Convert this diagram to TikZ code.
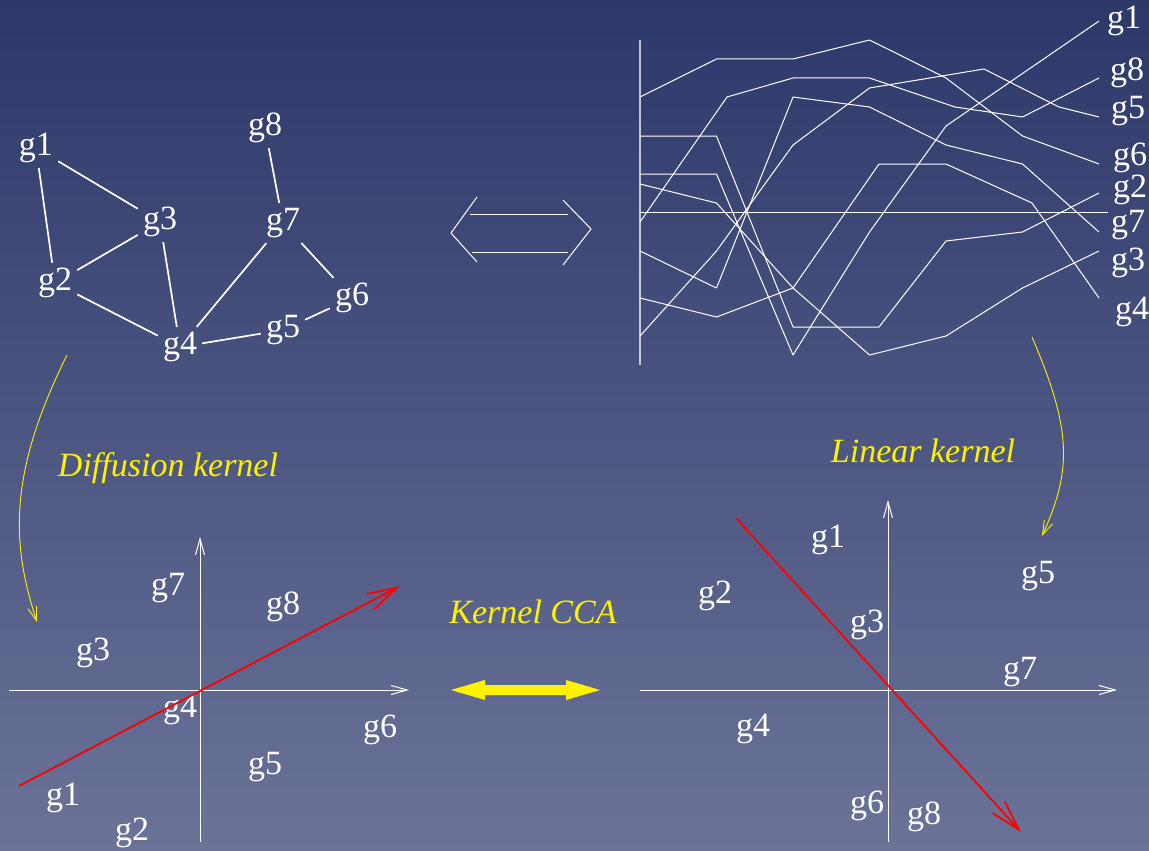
\documentclass[tikz,border=0pt]{standalone}
\usepackage{fontspec}
\setmainfont{Liberation Serif}
\usetikzlibrary{arrows.meta}
\definecolor{bgtop}{RGB}{44,56,106}
\definecolor{bgbot}{RGB}{107,115,152}

\begin{document}
\begin{tikzpicture}[x=1pt,y=-1pt,font=\fontsize{34}{40}\selectfont,
  lab/.style={text=white,inner sep=0pt},
  gene/.style={text=white,inner sep=5pt},
  edge/.style={white,line width=1.7pt},
  prof/.style={white,line width=1pt,line join=round},
  axis/.style={white,line width=1pt,-{Straight Barb[length=16pt,width=9pt]}},
  kern/.style={yellow,line width=0.9pt,-{Straight Barb[length=14pt,width=9pt]}},
  dir/.style={red,line width=1.8pt,-{Straight Barb[length=30pt,width=17pt]}},
  note/.style={text=yellow,font=\fontsize{34}{40}\selectfont\itshape}]
\useasboundingbox (0,0) rectangle (1149,851);
\shade[top color=bgtop,bottom color=bgbot] (0,0) rectangle (1149,851);

% gene network
\foreach \n/\x/\y in {1/36/148,2/55/283,3/160/222,4/180/347,5/283/330,6/352/298,7/283/223,8/265/128}
  \node[gene] (n\n) at (\x,\y) {g\n};
\foreach \a/\b in {1/2,1/3,2/3,2/4,3/4,4/5,4/7,5/6,6/7,7/8}
  \draw[edge] (n\a) -- (n\b);

% expression profiles
\draw[white,opacity=0.7,line width=1.6pt] (640,40) -- (640,365);
\draw[white,line width=1pt] (640,212) -- (1108,212);
\draw[prof] (640,174) -- (716.5,174) -- (793,355) -- (869.5,232) -- (946,126) -- (1022.5,73.5) -- (1099,21);
\draw[prof] (640,136) -- (716.5,136) -- (793,327) -- (879,327) -- (946,241) -- (1022.5,232) -- (1099,193);
\draw[prof] (640,298) -- (716.5,317) -- (793,288) -- (869.5,355) -- (946,336) -- (1022.5,288) -- (1099,251);
\draw[prof] (640,184) -- (716.5,203) -- (793,288) -- (879,164) -- (946,164) -- (1032,203) -- (1099,298);
\draw[prof] (640,336) -- (716.5,251) -- (793,145) -- (869.5,88) -- (984,69) -- (1059,107) -- (1099,117);
\draw[prof] (640,97) -- (716.5,59) -- (793,59) -- (869.5,40) -- (946,78) -- (1022.5,136) -- (1099,164);
\draw[prof] (640,251) -- (716.5,288) -- (793,97) -- (869.5,107) -- (946,145) -- (1022.5,164) -- (1099,232);
\draw[prof] (640,222) -- (727,97) -- (793,78) -- (869.5,78) -- (955,107) -- (1022.5,117) -- (1099,78);
\foreach \n/\x/\y in {1/1124/21,8/1127/73,5/1128/111,6/1130/158,2/1130/190,7/1128/225,3/1128/263,4/1132/312}
  \node[lab] (p\n) at (\x,\y) {g\n};

% equivalence sign
\draw[white,line width=1pt] (470,214) -- (568,214) (472,252) -- (568,252);
\draw[white,line width=1pt] (477,197) -- (451,233) -- (477,262);
\draw[white,line width=1pt] (563,200) -- (591,229) -- (563,265);

% kernels
\coordinate (dk0) at (67,355);
\coordinate (dk1) at (37,622);
\coordinate (lk0) at (1032,337);
\coordinate (lk1) at (1042,536);
\draw[kern] (dk0) .. controls (10,470) and (10,540) .. (dk1);
\draw[kern] (lk0) .. controls (1072,430) and (1072,470) .. (lk1);
\node[note] (dk) at (168,468) {Diffusion kernel};
\node[note] (lk) at (923,451) {Linear kernel};
\node[note] (cca) at (533,612) {Kernel CCA};
\fill[yellow] (451,690) -- (485,680) -- (485,685) -- (566,685) -- (566,680) -- (600,690)
  -- (566,700) -- (566,695) -- (485,695) -- (485,700) -- cycle;

% projections
\draw[axis] (9,690) -- (409,690);
\draw[axis] (200,842) -- (200,537);
\foreach \n/\x/\y in {7/168/588,8/283/607,3/93/653,4/180/710,6/380/730,5/265/767,1/63/798,2/132/833}
  \node[lab] (d\n) at (\x,\y) {g\n};
\draw[dir] (19,786) -- (400,586);

\draw[axis] (640,690) -- (1117,690);
\draw[axis] (888,842) -- (888,500);
\foreach \n/\x/\y in {1/828/540,2/715/596,5/1038/576,3/867/625,7/1020/672,4/753/729,6/867/806,8/924/817}
  \node[lab] (l\n) at (\x,\y) {g\n};
\draw[dir] (736,518) -- (1021,832);
\end{tikzpicture}
\end{document}
